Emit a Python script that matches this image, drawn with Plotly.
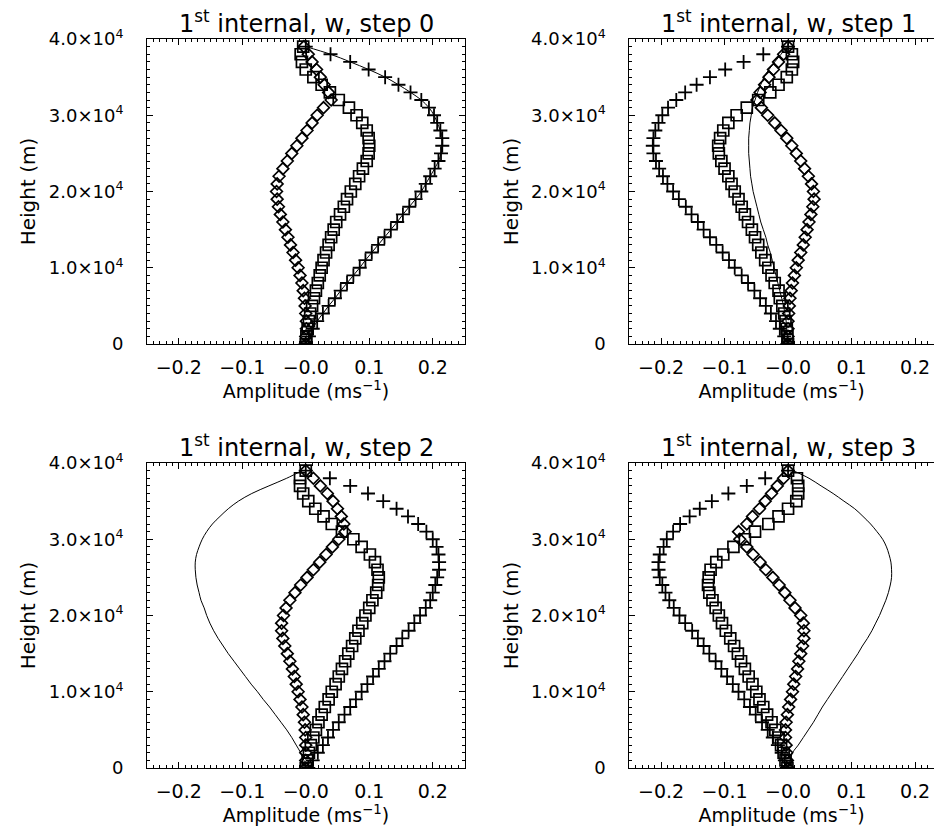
import plotly.graph_objects as go

# ---------------- data (bottom -> top) ----------------
HEIGHTS = [0, 1000, 2000, 3000, 4000, 5000, 6000, 7000, 8000, 9000,
           10000, 11000, 12000, 13000, 14000, 15000, 16000, 17000, 18000, 19000,
           20000, 21000, 22000, 23000, 24000, 25000, 26000, 27000, 28000, 29000,
           30000, 31000, 32000, 33000, 34000, 35000, 36000, 37000, 38000, 39000]

STEPS = ["0", "1", "2", "3"]

# step 0
PLUS_0 = [0.000, 0.005, 0.011, 0.018, 0.027, 0.036, 0.046, 0.055, 0.065, 0.075,
          0.085, 0.094, 0.104, 0.114, 0.124, 0.134, 0.144, 0.153, 0.163, 0.173,
          0.182, 0.189, 0.196, 0.203, 0.209, 0.213, 0.215, 0.215, 0.212, 0.207,
          0.202, 0.194, 0.182, 0.165, 0.146, 0.125, 0.099, 0.070, 0.039, 0.000]
SQUARE_0 = [0.000, 0.001, 0.003, 0.005, 0.007, 0.010, 0.013, 0.016, 0.019, 0.022,
            0.025, 0.028, 0.032, 0.036, 0.040, 0.044, 0.048, 0.054, 0.060, 0.065,
            0.071, 0.078, 0.084, 0.090, 0.096, 0.099, 0.100, 0.099, 0.096, 0.089,
            0.080, 0.068, 0.052, 0.038, 0.025, 0.012, 0.000, -0.006, -0.008, -0.004]
DIAMOND_0 = [0.000, 0.000, 0.001, 0.001, 0.000, -0.001, -0.002, -0.004, -0.006, -0.009,
             -0.012, -0.016, -0.020, -0.024, -0.028, -0.032, -0.036, -0.040, -0.043, -0.045,
             -0.046, -0.045, -0.042, -0.036, -0.029, -0.022, -0.014, -0.006, 0.002, 0.010,
             0.018, 0.028, 0.040, 0.036, 0.029, 0.023, 0.017, 0.010, 0.004, -0.003]
LINE_0 = [0.000, 0.005, 0.011, 0.018, 0.027, 0.036, 0.046, 0.055, 0.065, 0.075,
          0.085, 0.094, 0.104, 0.114, 0.124, 0.134, 0.144, 0.153, 0.163, 0.173,
          0.182, 0.189, 0.196, 0.203, 0.209, 0.213, 0.215, 0.215, 0.212, 0.207,
          0.202, 0.194, 0.182, 0.165, 0.146, 0.125, 0.099, 0.070, 0.039, 0.000]

# step 1
PLUS_1 = [-0.001, -0.006, -0.013, -0.019, -0.027, -0.035, -0.044, -0.053, -0.063, -0.073,
          -0.084, -0.093, -0.103, -0.113, -0.123, -0.133, -0.142, -0.152, -0.161, -0.172,
          -0.181, -0.190, -0.197, -0.203, -0.208, -0.212, -0.213, -0.212, -0.209, -0.204,
          -0.198, -0.189, -0.176, -0.162, -0.144, -0.123, -0.099, -0.070, -0.039, 0.000]
SQUARE_1 = [0.000, -0.001, -0.002, -0.004, -0.006, -0.009, -0.013, -0.015, -0.021, -0.026,
            -0.031, -0.036, -0.042, -0.047, -0.052, -0.057, -0.063, -0.068, -0.073, -0.078,
            -0.084, -0.089, -0.094, -0.100, -0.105, -0.109, -0.110, -0.107, -0.102, -0.094,
            -0.081, -0.065, -0.047, -0.028, -0.015, -0.002, 0.006, 0.008, 0.006, 0.000]
DIAMOND_1 = [0.000, 0.000, 0.000, 0.000, 0.001, 0.002, 0.003, 0.005, 0.007, 0.010,
             0.013, 0.016, 0.020, 0.024, 0.027, 0.030, 0.033, 0.036, 0.039, 0.041,
             0.040, 0.037, 0.032, 0.026, 0.020, 0.013, 0.006, -0.002, -0.011, -0.021,
             -0.032, -0.042, -0.049, -0.044, -0.037, -0.030, -0.023, -0.015, -0.007, 0.000]
LINE_1 = [0.000, -0.001, -0.002, -0.003, -0.005, -0.007, -0.010, -0.013, -0.016, -0.019,
          -0.022, -0.025, -0.028, -0.032, -0.035, -0.039, -0.043, -0.046, -0.049, -0.052,
          -0.055, -0.057, -0.059, -0.060, -0.061, -0.062, -0.062, -0.062, -0.061, -0.060,
          -0.058, -0.056, -0.052, -0.048, -0.043, -0.038, -0.030, -0.021, -0.011, -0.002]

# step 2
PLUS_2 = [0.004, 0.011, 0.019, 0.027, 0.035, 0.043, 0.052, 0.061, 0.070, 0.079,
          0.088, 0.097, 0.106, 0.115, 0.124, 0.133, 0.143, 0.152, 0.162, 0.171,
          0.180, 0.189, 0.196, 0.200, 0.204, 0.207, 0.210, 0.210, 0.209, 0.206,
          0.200, 0.190, 0.177, 0.161, 0.143, 0.122, 0.098, 0.070, 0.038, 0.000]
SQUARE_2 = [0.000, 0.003, 0.005, 0.008, 0.012, 0.016, 0.020, 0.025, 0.030, 0.036,
            0.041, 0.047, 0.052, 0.057, 0.062, 0.067, 0.073, 0.078, 0.083, 0.089,
            0.094, 0.100, 0.105, 0.111, 0.114, 0.115, 0.113, 0.109, 0.101, 0.088,
            0.075, 0.057, 0.041, 0.028, 0.015, 0.004, -0.004, -0.009, -0.009, 0.000]
DIAMOND_2 = [0.000, 0.000, 0.000, 0.000, 0.000, -0.001, -0.002, -0.004, -0.006, -0.009,
             -0.012, -0.015, -0.018, -0.021, -0.025, -0.029, -0.033, -0.036, -0.038, -0.038,
             -0.035, -0.031, -0.025, -0.017, -0.008, 0.002, 0.012, 0.022, 0.032, 0.042,
             0.052, 0.062, 0.060, 0.056, 0.050, 0.043, 0.034, 0.023, 0.012, 0.000]
LINE_2 = [0.000, -0.003, -0.008, -0.015, -0.022, -0.030, -0.039, -0.048, -0.057, -0.067,
          -0.076, -0.086, -0.095, -0.104, -0.113, -0.122, -0.130, -0.138, -0.145, -0.151,
          -0.156, -0.160, -0.165, -0.168, -0.171, -0.173, -0.174, -0.174, -0.172, -0.168,
          -0.163, -0.156, -0.147, -0.135, -0.122, -0.106, -0.085, -0.058, -0.030, -0.006]

# step 3
PLUS_3 = [-0.002, -0.005, -0.010, -0.016, -0.024, -0.032, -0.041, -0.051, -0.060, -0.069,
          -0.078, -0.087, -0.096, -0.105, -0.114, -0.124, -0.133, -0.142, -0.151, -0.162,
          -0.171, -0.180, -0.187, -0.193, -0.198, -0.202, -0.204, -0.204, -0.202, -0.196,
          -0.191, -0.181, -0.170, -0.155, -0.139, -0.120, -0.094, -0.065, -0.036, 0.000]
SQUARE_3 = [-0.001, -0.004, -0.007, -0.011, -0.015, -0.020, -0.026, -0.033, -0.039, -0.045,
            -0.050, -0.056, -0.062, -0.068, -0.074, -0.079, -0.085, -0.091, -0.098, -0.104,
            -0.109, -0.114, -0.119, -0.124, -0.126, -0.125, -0.122, -0.113, -0.102, -0.086,
            -0.068, -0.052, -0.031, -0.015, 0.000, 0.013, 0.016, 0.016, 0.014, 0.000]
DIAMOND_3 = [0.000, -0.001, -0.002, -0.003, -0.004, -0.004, -0.003, -0.001, 0.001, 0.004,
             0.007, 0.009, 0.012, 0.015, 0.017, 0.020, 0.023, 0.025, 0.025, 0.024,
             0.020, 0.011, 0.003, -0.005, -0.014, -0.024, -0.035, -0.044, -0.055, -0.065,
             -0.076, -0.078, -0.065, -0.056, -0.045, -0.036, -0.026, -0.017, -0.007, 0.000]
LINE_3 = [0.000, 0.003, 0.007, 0.016, 0.024, 0.032, 0.040, 0.047, 0.054, 0.062,
          0.070, 0.078, 0.086, 0.094, 0.102, 0.110, 0.117, 0.125, 0.132, 0.138,
          0.144, 0.149, 0.154, 0.158, 0.161, 0.163, 0.163, 0.162, 0.159, 0.155,
          0.149, 0.140, 0.130, 0.118, 0.105, 0.088, 0.071, 0.052, 0.033, 0.008]

X_TICKVALS = [-0.2, -0.1, 0.0, 0.1, 0.2]
X_TICKTEXT = ["\u22120.2", "\u22120.1", "\u22120.0", "0.1", "0.2"]
Y_TICKVALS = [0, 10000, 20000, 30000, 40000]
Y_TICKTEXT = ["0", "1.0\u00d710<sup>4</sup>", "2.0\u00d710<sup>4</sup>",
              "3.0\u00d710<sup>4</sup>", "4.0\u00d710<sup>4</sup>"]

PANELS = [
    (PLUS_0, SQUARE_0, DIAMOND_0, LINE_0),
    (PLUS_1, SQUARE_1, DIAMOND_1, LINE_1),
    (PLUS_2, SQUARE_2, DIAMOND_2, LINE_2),
    (PLUS_3, SQUARE_3, DIAMOND_3, LINE_3),
]

# ---------------- layout geometry (pixels) ----------------
W, H = 934, 826
FONT = "DejaVu Sans"
PX_PER_UNIT = 635.0            # pixels per 1.0 amplitude
LEFTS = [147.0, 629.3]
TOPS = [39.0, 463.0]
PW, PH = 318.0, 305.0

fig = go.Figure()
layout = dict(
    template="none",
    width=W, height=H, margin=dict(l=0, r=0, t=0, b=0, pad=0),
    paper_bgcolor="white", plot_bgcolor="white", showlegend=False,
    font=dict(family=FONT, color="black", size=18),
)
annotations = []

for i, (plus, sq, dia, line) in enumerate(PANELS):
    col, row = i % 2, i // 2
    left, top = LEFTS[col], TOPS[row]
    right = min(left + PW, W)
    xmax = -0.25 + (right - left) / PX_PER_UNIT
    n = "" if i == 0 else str(i + 1)
    xa, ya = "x" + n, "y" + n

    fig.add_trace(go.Scatter(x=line, y=HEIGHTS, mode="lines", xaxis=xa, yaxis=ya,
                             line=dict(color="black", width=1, shape="spline"),
                             hoverinfo="skip"))
    fig.add_trace(go.Scatter(x=plus, y=HEIGHTS, mode="markers", xaxis=xa, yaxis=ya,
                             marker=dict(symbol="cross-thin-open", size=10, color="black",
                                         line=dict(color="black", width=1.8))))
    fig.add_trace(go.Scatter(x=sq, y=HEIGHTS, mode="markers", xaxis=xa, yaxis=ya,
                             marker=dict(symbol="square-open", size=11, color="black",
                                         line=dict(color="black", width=1.7))))
    fig.add_trace(go.Scatter(x=dia, y=HEIGHTS, mode="markers", xaxis=xa, yaxis=ya,
                             marker=dict(symbol="diamond-open", size=9, color="black",
                                         line=dict(color="black", width=1.7))))

    axcommon = dict(showline=True, linecolor="black", linewidth=1, showgrid=False,
                    zeroline=False, automargin=False, ticks="inside",
                    tickcolor="black", tickwidth=1, ticklen=6,
                    tickfont=dict(family=FONT, size=18, color="black"))
    layout["xaxis" + n] = dict(
        axcommon, domain=[left / W, right / W], anchor=ya,
        range=[-0.25, xmax], tickvals=X_TICKVALS, ticktext=X_TICKTEXT,
        tickfont=dict(family=FONT, size=19, color="black"),
        mirror="ticks", ticklabelstandoff=6,
        minor=dict(dtick=0.01, tick0=0, ticks="inside", ticklen=3,
                   tickcolor="black", showgrid=False),
        title=dict(text="Amplitude (ms<sup>\u22121</sup>)",
                   font=dict(family=FONT, size=19), standoff=6),
    )
    layout["yaxis" + n] = dict(
        axcommon, domain=[1 - (top + PH) / H, 1 - top / H], anchor=xa,
        range=[0, 40000], tickvals=Y_TICKVALS, ticktext=Y_TICKTEXT,
        mirror="ticks" if col == 0 else False, ticklabelstandoff=19,
        minor=dict(dtick=1000, tick0=0, ticks="inside", ticklen=3,
                   tickcolor="black", showgrid=False),
        title=dict(text="Height (m)", font=dict(family=FONT, size=20), standoff=7),
    )
    annotations.append(dict(
        text="1<sup>st</sup> internal, w, step " + STEPS[i],
        xref="paper", yref="paper", x=(left + PW / 2) / W, y=1 - (top - 17) / H,
        xanchor="center", yanchor="middle", showarrow=False,
        font=dict(family=FONT, size=24, color="black")))

layout["annotations"] = annotations
fig.update_layout(**layout)
fig.write_html("out.html", config={"displayModeBar": False},
               post_script="document.body.style.margin='0px';")
